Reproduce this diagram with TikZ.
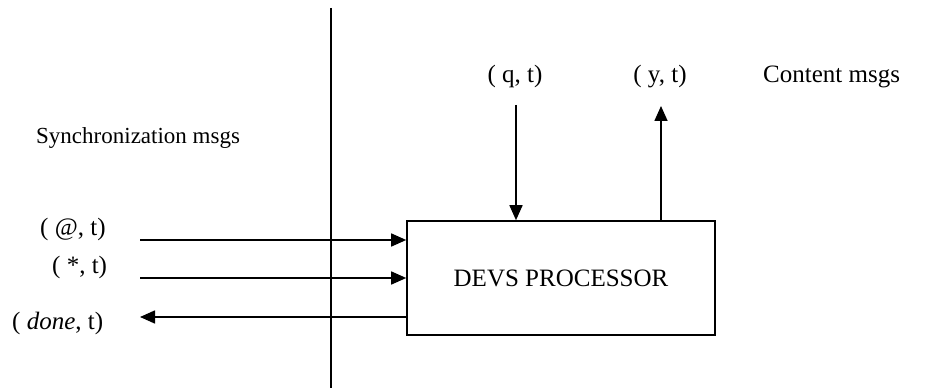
\documentclass[tikz,border=0pt]{standalone}
\usepackage{fontspec}
\setmainfont{Liberation Serif}
\usetikzlibrary{arrows.meta}
\begin{document}
\begin{tikzpicture}[x=1pt,y=-1pt,
  lbl/.style={inner sep=0pt,font=\fontsize{25}{30}\selectfont},
  slbl/.style={inner sep=0pt,font=\fontsize{23}{28}\selectfont},
  msg/.style={line width=1.6pt,-{Triangle[length=15pt,width=13pt]}},
  procbox/.style={draw,line width=1.6pt,minimum width=308pt,minimum height=114pt,inner sep=0pt,font=\fontsize{25}{30}\selectfont}]
\useasboundingbox (0,0) rectangle (934,390);
% divider
\coordinate (divtop) at (331,8);
\coordinate (divbot) at (331,388);
\draw[line width=1.6pt] (divtop) -- (divbot);
% processor
\node[procbox] (proc) at (561,278) {DEVS PROCESSOR};
% labels
\node[slbl,anchor=base west] (sync) at (36,144) {Synchronization msgs};
\node[lbl,anchor=base west] (at) at (40,235) {( @, t)};
\node[lbl,anchor=base west] (star) at (52,273) {( *, t)};
\node[lbl,anchor=base west] (done) at (12,329) {( \textit{done}, t)};
\node[lbl,anchor=base] (q) at (515,83) {( q, t)};
\node[lbl,anchor=base] (y) at (660,83) {( y, t)};
\node[lbl,anchor=base west] (content) at (763,83) {Content msgs};
% connector ends
\coordinate (atS) at (140,240);
\coordinate (starS) at (140,278);
\coordinate (doneE) at (140,317);
\coordinate (qS) at (516,105);
\coordinate (yE) at (661,106);
% arrows
\draw[msg] (atS) -- (atS -| proc.west);
\draw[msg] (starS) -- (starS -| proc.west);
\draw[msg] (doneE -| proc.west) -- (doneE);
\draw[msg] (qS) -- (qS |- proc.north);
\draw[msg] (yE |- proc.north) -- (yE);
\end{tikzpicture}
\end{document}
